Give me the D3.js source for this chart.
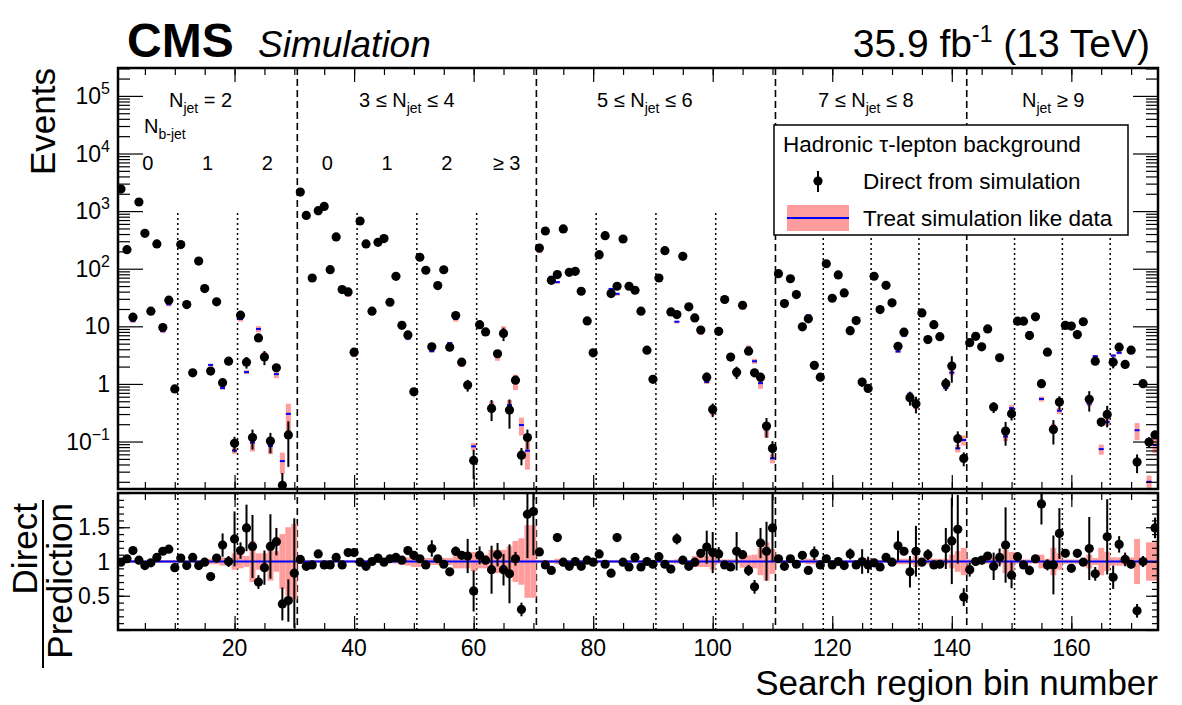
<!DOCTYPE html>
<html>
<head>
<meta charset="utf-8">
<script src="https://cdn.jsdelivr.net/npm/d3@7"></script>
<style>
body { margin: 0; background: #fff; }
svg text { font-family: "Liberation Sans", Arial, Helvetica, sans-serif; fill: #000; }
</style>
</head>
<body>
<script>
// ---- data ----
var nBins = 174;

// direct from simulation, events per search bin (bins 1..174)
var directValues = [
  2415, 214, 14.4, 1440, 411, 18.3, 269, 9.5, 28.4, 0.82,
  262, 23.9, 1.56, 136, 45.2, 1.67, 26.6, 1.05, 2.48, 0.093,
  15.6, 2.39, 0.117, 6.3, 2.92, 0.102, 1.91, 0.0174, 0.130, 0.007,
  2144, 843, 69, 1016, 1208, 96.4, 356, 43.4, 39.6, 3.56,
  673, 269, 18.3, 287, 333, 26.2, 73.8, 10.4, 7.1, 0.73,
  158, 94, 4.4, 51, 96, 4.34, 15.4, 2.39, 0.955, 0.047,
  10.7, 8.0, 0.376, 3.34, 7.5, 0.352, 1.16, 0.058, 0.117, 0.006,
  229, 452, 63, 79, 490, 86.7, 90, 40.6, 12.4, 3.47,
  175, 375, 37, 49.6, 328, 49.6, 42.3, 18.3, 3.86, 1.20,
  69, 206, 17.8, 16.0, 164, 21.8, 14.0, 8.6, 1.31, 0.361,
  8.2, 29.2, 2.92, 1.60, 23.2, 3.71, 1.56, 1.31, 0.186, 0.076,
  82, 24.8, 67, 35.6, 9.8, 13.5, 2.10, 1.31, 122, 30.7,
  78, 38, 8.4, 12.6, 1.08, 0.835, 74, 19.5, 51.5, 25.6,
  4.5, 7.9, 0.577, 0.454, 17.1, 5.9, 10.7, 6.6, 1.01, 2.04,
  0.112, 0.051, 5.2, 6.7, 4.4, 9.0, 0.397, 2.85, 0.152, 0.304,
  12.3, 12.3, 6.9, 14.6, 1.01, 3.56, 0.162, 0.484, 10.4, 10.1,
  7.2, 12.0, 0.54, 2.48, 0.218, 0.296, 2.39, 4.34, 2.18, 3.86,
  0.044, 1.01, 0.098, 0.13
];

// Direct / Prediction
var ratioValues = [
  0.99, 1.04, 1.16, 1.02, 0.94, 0.98, 1.06, 1.15, 1.18, 0.91,
  1.05, 0.94, 1.06, 0.94, 0.99, 0.78, 1.05, 1.24, 1.00, 1.33,
  1.16, 1.49, 1.22, 0.70, 0.91, 1.22, 1.29, 0.38, 0.43, 0.83,
  1.03, 0.93, 0.95, 1.11, 0.95, 0.95, 1.06, 0.95, 1.13, 1.13,
  0.99, 0.93, 1.00, 1.05, 0.99, 1.04, 1.06, 1.02, 1.16, 1.09,
  1.04, 0.95, 1.19, 1.04, 0.96, 0.85, 1.15, 1.09, 1.08, 0.57,
  1.09, 1.02, 0.88, 1.10, 0.88, 0.82, 1.04, 0.30, 1.69, 1.73,
  1.14, 0.95, 0.87, 1.35, 0.99, 0.93, 1.00, 0.93, 1.02, 0.99,
  1.11, 0.96, 0.83, 1.35, 0.99, 0.92, 1.06, 0.92, 1.00, 0.96,
  1.07, 0.96, 0.89, 1.33, 1.02, 0.93, 0.99, 1.12, 1.21, 1.13,
  1.11, 0.95, 0.92, 1.15, 1.10, 0.87, 0.63, 1.27, 1.15, 1.49,
  1.04, 0.93, 1.04, 0.96, 1.09, 0.87, 1.12, 0.95, 1.04, 0.95,
  1.00, 0.94, 1.11, 0.95, 1.00, 0.95, 0.98, 0.92, 1.06, 0.99,
  1.23, 1.15, 0.85, 1.15, 0.99, 1.10, 0.95, 0.96, 1.19, 1.30,
  1.47, 0.48, 0.88, 1.00, 1.02, 1.08, 0.93, 1.06, 1.24, 0.80,
  1.07, 0.95, 0.87, 1.04, 1.84, 0.95, 0.95, 1.41, 1.12, 0.90,
  1.12, 0.99, 1.19, 0.82, 2.95, 1.36, 0.77, 1.25, 1.03, 0.96,
  0.28, 1.00, 4.90, 1.49
];

// half length of the error bar on the ratio
var ratioErrors = [
  0.03, 0.04, 0.04, 0.03, 0.03, 0.04, 0.03, 0.04, 0.04, 0.05,
  0.03, 0.04, 0.05, 0.03, 0.04, 0.05, 0.05, 0.17, 0.08, 0.40,
  0.12, 0.34, 0.46, 0.10, 0.25, 0.47, 0.20, 0.24, 0.31, 0.80,
  0.03, 0.03, 0.04, 0.03, 0.03, 0.04, 0.03, 0.04, 0.04, 0.05,
  0.03, 0.03, 0.04, 0.03, 0.03, 0.04, 0.04, 0.05, 0.05, 0.06,
  0.03, 0.04, 0.12, 0.04, 0.04, 0.05, 0.07, 0.05, 0.25, 0.30,
  0.13, 0.06, 0.35, 0.17, 0.23, 0.43, 0.10, 0.10, 0.64, 0.64,
  0.03, 0.03, 0.04, 0.06, 0.03, 0.04, 0.04, 0.04, 0.05, 0.05,
  0.03, 0.03, 0.04, 0.06, 0.03, 0.04, 0.04, 0.04, 0.05, 0.05,
  0.04, 0.03, 0.04, 0.08, 0.03, 0.04, 0.04, 0.05, 0.24, 0.30,
  0.10, 0.04, 0.05, 0.28, 0.04, 0.08, 0.10, 0.22, 0.43, 0.50,
  0.03, 0.04, 0.03, 0.04, 0.05, 0.05, 0.10, 0.06, 0.03, 0.04,
  0.04, 0.04, 0.08, 0.05, 0.18, 0.12, 0.04, 0.05, 0.04, 0.05,
  0.22, 0.06, 0.23, 0.37, 0.05, 0.08, 0.05, 0.06, 0.30, 0.63,
  0.50, 0.13, 0.10, 0.05, 0.06, 0.05, 0.20, 0.13, 0.55, 0.19,
  0.05, 0.05, 0.07, 0.05, 0.30, 0.08, 0.43, 0.37, 0.05, 0.05,
  0.06, 0.05, 0.46, 0.10, 0.50, 0.55, 0.17, 0.12, 0.10, 0.06,
  0.10, 0.08, 1.00, 0.15
];

// relative uncertainty of the "treat simulation like data" prediction
var predBand = [
  0.02, 0.02, 0.02, 0.02, 0.02, 0.02, 0.02, 0.02, 0.02, 0.02,
  0.02, 0.02, 0.02, 0.02, 0.02, 0.04, 0.04, 0.06, 0.05, 0.12,
  0.10, 0.08, 0.30, 0.12, 0.12, 0.28, 0.15, 0.40, 0.50, 0.55,
  0.02, 0.02, 0.02, 0.02, 0.02, 0.02, 0.02, 0.02, 0.02, 0.02,
  0.02, 0.02, 0.02, 0.02, 0.02, 0.02, 0.03, 0.05, 0.06, 0.08,
  0.08, 0.05, 0.05, 0.05, 0.05, 0.05, 0.10, 0.10, 0.10, 0.14,
  0.10, 0.10, 0.17, 0.17, 0.17, 0.22, 0.30, 0.34, 0.53, 0.53,
  0.02, 0.02, 0.02, 0.04, 0.02, 0.02, 0.02, 0.02, 0.02, 0.02,
  0.02, 0.02, 0.02, 0.02, 0.02, 0.02, 0.02, 0.02, 0.02, 0.02,
  0.02, 0.02, 0.02, 0.03, 0.02, 0.02, 0.08, 0.08, 0.08, 0.12,
  0.03, 0.03, 0.03, 0.03, 0.09, 0.09, 0.10, 0.20, 0.28, 0.18,
  0.02, 0.02, 0.02, 0.02, 0.02, 0.04, 0.04, 0.02, 0.02, 0.02,
  0.02, 0.02, 0.02, 0.02, 0.04, 0.04, 0.04, 0.02, 0.02, 0.02,
  0.04, 0.04, 0.04, 0.08, 0.04, 0.04, 0.04, 0.04, 0.04, 0.10,
  0.15, 0.20, 0.03, 0.03, 0.03, 0.03, 0.06, 0.04, 0.17, 0.14,
  0.03, 0.03, 0.03, 0.03, 0.10, 0.04, 0.20, 0.12, 0.03, 0.03,
  0.03, 0.03, 0.10, 0.05, 0.20, 0.14, 0.06, 0.06, 0.06, 0.06,
  0.33, 0.05, 0.28, 0.28
];

var dashedEdges = [30.5, 70.5, 110.5, 142.5];
var dottedEdges = [10.5, 20.5, 40.5, 50.5, 60.5, 80.5, 90.5, 100.5, 118.5, 126.5, 134.5, 150.5, 158.5, 166.5];
var xMinorTicks = d3.range(5, 175, 5);
var xMajorTicks = [20, 40, 60, 80, 100, 120, 140, 160];
var yTopMajor = [0.1, 1, 10, 100, 1e3, 1e4, 1e5];
var yTopLabels = [["10", "\u22121"], ["1", ""], ["10", ""], ["10", "2"], ["10", "3"], ["10", "4"], ["10", "5"]];
var ratioMajor = [0, 0.5, 1, 1.5, 2];
var ratioLabels = ["0.5", "1", "1.5"];
var njetLabels = [
  {x: 169, parts: [["N", ""], ["jet", "sub"], [" = 2", ""]]},
  {x: 359, parts: [["3 \u2264 N", ""], ["jet", "sub"], [" \u2264 4", ""]]},
  {x: 597, parts: [["5 \u2264 N", ""], ["jet", "sub"], [" \u2264 6", ""]]},
  {x: 818, parts: [["7 \u2264 N", ""], ["jet", "sub"], [" \u2264 8", ""]]},
  {x: 1022, parts: [["N", ""], ["jet", "sub"], [" \u2265 9", ""]]}
];
var nbCenters = [5.5, 15.5, 25.5, 35.5, 45.5, 55.5, 65.5];
var nbTexts = ["0", "1", "2", "0", "1", "2", "\u2265 3"];

// ---- layout ----
var W = 1182, H = 705;
var left = 118, right = 1158;
var topY = 68, topBottom = 489, ratTop = 493, ratBottom = 630;
var pink = "#ff9c9c", blue = "#0000ff";

var svg = d3.select("body").append("svg").attr("width", W).attr("height", H);

var x = d3.scaleLinear().domain([0.5, 174.5]).range([left, right]);
var yTop = d3.scaleLog().domain([0.015, 3.05e5]).range([topBottom, topY]);
var yRat = d3.scaleLinear().domain([0, 2]).range([ratBottom, ratTop]);

var rows = d3.range(nBins).map(function(i) {
  var r = ratioValues[i];
  return {bin: i + 1, direct: directValues[i], ratio: r, rErr: ratioErrors[i],
          band: predBand[i], pred: directValues[i] / r};
});

var defs = svg.append("defs");
defs.append("clipPath").attr("id", "clipTop").append("rect")
  .attr("x", left).attr("y", topY).attr("width", right - left).attr("height", topBottom - topY);
defs.append("clipPath").attr("id", "clipRat").append("rect")
  .attr("x", left).attr("y", ratTop).attr("width", right - left).attr("height", ratBottom - ratTop);

// ---- separators ----
var sep = svg.append("g");
sep.selectAll(".dash").data(dashedEdges).enter().append("line")
  .attr("x1", function(d) { return x(d); }).attr("x2", function(d) { return x(d); })
  .attr("y1", topY).attr("y2", ratBottom)
  .attr("stroke", "#000").attr("stroke-width", 1.6).attr("stroke-dasharray", "7,4");
sep.selectAll(".dotT").data(dottedEdges).enter().append("line")
  .attr("x1", function(d) { return x(d); }).attr("x2", function(d) { return x(d); })
  .attr("y1", 213).attr("y2", topBottom)
  .attr("stroke", "#000").attr("stroke-width", 1.5).attr("stroke-dasharray", "2,3");
sep.selectAll(".dotR").data(dottedEdges).enter().append("line")
  .attr("x1", function(d) { return x(d); }).attr("x2", function(d) { return x(d); })
  .attr("y1", ratTop).attr("y2", ratBottom)
  .attr("stroke", "#000").attr("stroke-width", 1.5).attr("stroke-dasharray", "2,3");

// ---- top panel ----
var gTop = svg.append("g").attr("clip-path", "url(#clipTop)");
var binW = x(1.5) - x(0.5);

gTop.selectAll(".box").data(rows).enter().append("rect")
  .attr("x", function(d) { return x(d.bin - 0.5) + 0.5; })
  .attr("width", binW - 1)
  .attr("y", function(d) { return yTop(d.pred * (1 + d.band)); })
  .attr("height", function(d) { return Math.max(yTop(d.pred * (1 - d.band)) - yTop(d.pred * (1 + d.band)), 2.5); })
  .attr("fill", pink);

gTop.selectAll(".pl").data(rows).enter().append("line")
  .attr("x1", function(d) { return x(d.bin - 0.5) + 0.5; })
  .attr("x2", function(d) { return x(d.bin + 0.5) - 0.5; })
  .attr("y1", function(d) { return yTop(d.pred); })
  .attr("y2", function(d) { return yTop(d.pred); })
  .attr("stroke", blue).attr("stroke-width", 2);

gTop.selectAll(".eb").data(rows).enter().append("line")
  .attr("x1", function(d) { return x(d.bin); }).attr("x2", function(d) { return x(d.bin); })
  .attr("y1", function(d) { var rel = d.rErr / d.ratio; return yTop(Math.max(d.direct * (1 - rel), 1e-4)); })
  .attr("y2", function(d) { var rel = d.rErr / d.ratio; return yTop(d.direct * (1 + rel)); })
  .attr("stroke", "#000").attr("stroke-width", 2);

gTop.selectAll(".pt").data(rows).enter().append("circle")
  .attr("cx", function(d) { return x(d.bin); })
  .attr("cy", function(d) { return yTop(d.direct); })
  .attr("r", 4.6).attr("fill", "#000");

// ---- ratio panel ----
var gRat = svg.append("g").attr("clip-path", "url(#clipRat)");
gRat.selectAll(".band").data(rows).enter().append("rect")
  .attr("x", function(d) { return x(d.bin - 0.5); })
  .attr("width", binW)
  .attr("y", function(d) { return yRat(1 + d.band); })
  .attr("height", function(d) { return yRat(1 - d.band) - yRat(1 + d.band); })
  .attr("fill", pink);
gRat.append("line")
  .attr("x1", left).attr("x2", right).attr("y1", yRat(1)).attr("y2", yRat(1))
  .attr("stroke", blue).attr("stroke-width", 2);
gRat.selectAll(".reb").data(rows).enter().append("line")
  .attr("x1", function(d) { return x(d.bin); }).attr("x2", function(d) { return x(d.bin); })
  .attr("y1", function(d) { return yRat(d.ratio - d.rErr); })
  .attr("y2", function(d) { return yRat(d.ratio + d.rErr); })
  .attr("stroke", "#000").attr("stroke-width", 2);
gRat.selectAll(".rpt").data(rows).enter().append("circle")
  .attr("cx", function(d) { return x(d.bin); })
  .attr("cy", function(d) { return yRat(d.ratio); })
  .attr("r", 4.6).attr("fill", "#000");

// ---- axes (ROOT style: ticks inside, on all four sides) ----
function tickAxis(axis, tx, ty) {
  var g = svg.append("g").attr("transform", "translate(" + tx + "," + ty + ")").call(axis);
  g.select(".domain").remove();
  g.selectAll("line").attr("stroke", "#000").attr("stroke-width", 1.2);
  g.selectAll("text").remove();
  return g;
}
var logMinor = [];
[-2, -1, 0, 1, 2, 3, 4, 5].forEach(function(e) {
  d3.range(2, 10).forEach(function(m) {
    var v = m * Math.pow(10, e);
    if (v > 0.015 && v < 3.05e5) logMinor.push(v);
  });
});
var ratMinor = d3.range(0.1, 2, 0.1);

tickAxis(d3.axisLeft(yTop).tickValues(yTopMajor).tickSizeInner(-25).tickSizeOuter(0), left, 0);
tickAxis(d3.axisLeft(yTop).tickValues(logMinor).tickSizeInner(-12).tickSizeOuter(0), left, 0);
tickAxis(d3.axisRight(yTop).tickValues(yTopMajor).tickSizeInner(-25).tickSizeOuter(0), right, 0);
tickAxis(d3.axisRight(yTop).tickValues(logMinor).tickSizeInner(-12).tickSizeOuter(0), right, 0);
tickAxis(d3.axisLeft(yRat).tickValues(ratioMajor).tickSizeInner(-12).tickSizeOuter(0), left, 0);
tickAxis(d3.axisLeft(yRat).tickValues(ratMinor).tickSizeInner(-6).tickSizeOuter(0), left, 0);
tickAxis(d3.axisRight(yRat).tickValues(ratioMajor).tickSizeInner(-12).tickSizeOuter(0), right, 0);
tickAxis(d3.axisRight(yRat).tickValues(ratMinor).tickSizeInner(-6).tickSizeOuter(0), right, 0);

[[topY, "top"], [topBottom, "bottom"], [ratTop, "top"], [ratBottom, "bottom"]].forEach(function(p) {
  var mk = p[1] === "top" ? d3.axisTop : d3.axisBottom;
  tickAxis(mk(x).tickValues(xMinorTicks).tickSizeInner(-7).tickSizeOuter(0), 0, p[0]);
  tickAxis(mk(x).tickValues(xMajorTicks).tickSizeInner(-14).tickSizeOuter(0), 0, p[0]);
});

// frames
svg.append("rect").attr("x", left).attr("y", topY).attr("width", right - left).attr("height", topBottom - topY)
  .attr("fill", "none").attr("stroke", "#000").attr("stroke-width", 2.5);
svg.append("rect").attr("x", left).attr("y", ratTop).attr("width", right - left).attr("height", ratBottom - ratTop)
  .attr("fill", "none").attr("stroke", "#000").attr("stroke-width", 2.5);

// tick labels
var lab = svg.append("g").style("font-size", "23px");
yTopMajor.forEach(function(v, i) {
  var t = lab.append("text").attr("x", 110).attr("y", yTop(v) + 8).attr("text-anchor", "end");
  t.append("tspan").text(yTopLabels[i][0]);
  if (yTopLabels[i][1]) {
    t.append("tspan").attr("dy", -10).style("font-size", "16px").text(yTopLabels[i][1]);
  }
});
[0.5, 1, 1.5].forEach(function(v, i) {
  lab.append("text").attr("x", 110).attr("y", yRat(v) + 8).attr("text-anchor", "end").text(ratioLabels[i]);
});
xMajorTicks.forEach(function(v) {
  lab.append("text").attr("x", x(v)).attr("y", 656).attr("text-anchor", "middle").text(v);
});

// axis titles
svg.append("text").attr("transform", "translate(55,68) rotate(-90)")
  .attr("text-anchor", "end").style("font-size", "35px").text("Events");
svg.append("text").attr("x", right).attr("y", 695).attr("text-anchor", "end")
  .style("font-size", "35px").text("Search region bin number");
svg.append("text").attr("transform", "translate(37,503) rotate(-90)")
  .attr("text-anchor", "end").style("font-size", "35px").text("Direct");
svg.append("line").attr("x1", 43).attr("x2", 43).attr("y1", 500).attr("y2", 668)
  .attr("stroke", "#000").attr("stroke-width", 2);
svg.append("text").attr("transform", "translate(72,503) rotate(-90)")
  .attr("text-anchor", "end").style("font-size", "35px").text("Prediction");

// header
svg.append("text").attr("x", 127).attr("y", 57).style("font-size", "48px").style("font-weight", "bold").text("CMS");
svg.append("text").attr("x", 258).attr("y", 57).style("font-size", "37px").style("font-style", "italic").text("Simulation");
var lumi = svg.append("text").attr("x", 1150).attr("y", 57).attr("text-anchor", "end").style("font-size", "39px");
lumi.append("tspan").text("35.9 fb");
lumi.append("tspan").attr("dy", -15).style("font-size", "23px").text("-1");
lumi.append("tspan").attr("dy", 15).text(" (13 TeV)");

// region labels
var reg = svg.append("g").style("font-size", "20px");
njetLabels.forEach(function(L) {
  var t = reg.append("text").attr("x", L.x).attr("y", 107);
  L.parts.forEach(function(p) {
    if (p[1] === "sub") {
      t.append("tspan").attr("dy", 6).style("font-size", "14px").text(p[0]);
    } else {
      var s = t.append("tspan").text(p[0]);
      if (p[0].indexOf("N") < 0) s.attr("dy", -6);
    }
  });
});
var nbT = reg.append("text").attr("x", 144).attr("y", 133);
nbT.append("tspan").text("N");
nbT.append("tspan").attr("dy", 6).style("font-size", "14px").text("b-jet");
nbCenters.forEach(function(c, i) {
  reg.append("text").attr("x", x(c)).attr("y", 170).attr("text-anchor", "middle").text(nbTexts[i]);
});

// legend
var lg = svg.append("g");
lg.append("rect").attr("x", 774).attr("y", 125).attr("width", 354).attr("height", 110)
  .attr("fill", "#fff").attr("stroke", "#000").attr("stroke-width", 1.5);
lg.append("text").attr("x", 783).attr("y", 152).style("font-size", "22.5px").text("Hadronic \u03c4-lepton background");
lg.append("line").attr("x1", 818).attr("x2", 818).attr("y1", 171).attr("y2", 192).attr("stroke", "#000").attr("stroke-width", 2);
lg.append("circle").attr("cx", 818).attr("cy", 181).attr("r", 4.6).attr("fill", "#000");
lg.append("text").attr("x", 863).attr("y", 189).style("font-size", "22.5px").text("Direct from simulation");
lg.append("rect").attr("x", 787).attr("y", 205).attr("width", 62).attr("height", 26).attr("fill", pink);
lg.append("line").attr("x1", 787).attr("x2", 849).attr("y1", 218).attr("y2", 218).attr("stroke", blue).attr("stroke-width", 2);
lg.append("text").attr("x", 863).attr("y", 226).style("font-size", "22.5px").text("Treat simulation like data");
</script>
</body>
</html>
